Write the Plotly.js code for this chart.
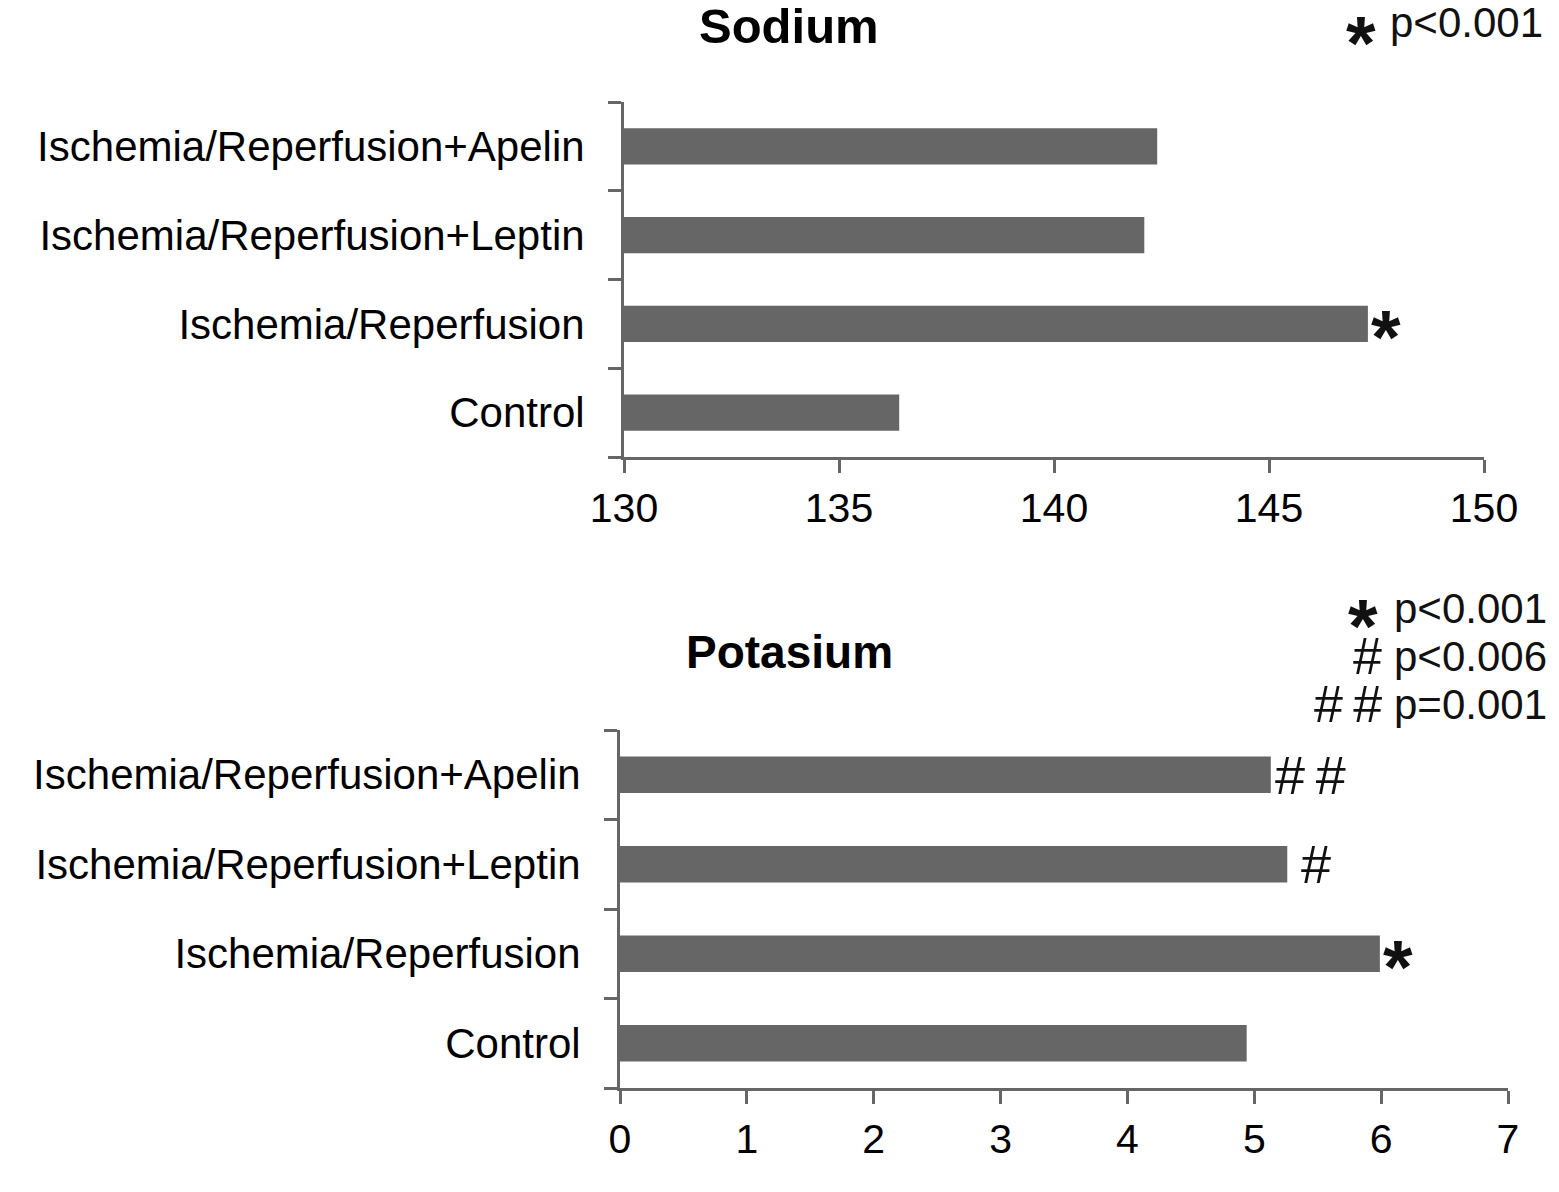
<!DOCTYPE html>
<html>
<head>
<meta charset="utf-8">
<script src="https://cdn.plot.ly/plotly-3.0.1.min.js"></script>
<style>html,body{margin:0;padding:0;background:#fff;}#chart{width:1559px;height:1192px;}</style>
</head>
<body>
<div id="chart"></div>
<script>
const categories = ['Control', 'Ischemia/Reperfusion', 'Ischemia/Reperfusion+Leptin', 'Ischemia/Reperfusion+Apelin'];
const sodium = [136.4, 147.3, 142.1, 142.4];
const potassium = [4.94, 5.99, 5.26, 5.13];
const sodiumMarks = ['', '*', '', ''];
const potassiumMarks = ['', '*', '#', '##'];
const sodiumTicks = [130, 135, 140, 145, 150];
const potassiumTicks = [0, 1, 2, 3, 4, 5, 6, 7];
const sodiumLegend = [['*', 'p<0.001']];
const potassiumLegend = [['*', 'p<0.001'], ['#', 'p<0.006'], ['##', 'p=0.001']];

const FONT = 'Liberation Sans, Arial, sans-serif';
const GREY = '#666666';

const traces = [
  {type: 'bar', orientation: 'h', y: categories, x: sodium, xaxis: 'x', yaxis: 'y',
   marker: {color: GREY}, hoverinfo: 'x+y'},
  {type: 'bar', orientation: 'h', y: categories, x: potassium, xaxis: 'x2', yaxis: 'y2',
   marker: {color: GREY}, hoverinfo: 'x+y'}
];

function xAxis(domain, range, ticks, anchor) {
  return {domain: domain, range: range, tickvals: ticks, ticktext: ticks.map(String),
    anchor: anchor, showgrid: false, zeroline: false, showline: true, linecolor: GREY, linewidth: 3,
    ticks: 'outside', ticklen: 13, tickwidth: 3, tickcolor: GREY,
    ticklabelstandoff: 0,
    tickfont: {family: FONT, size: 41, color: '#000'}, fixedrange: true};
}
function yAxis(domain, anchor) {
  return {domain: domain, type: 'category', anchor: anchor, categoryorder: 'array', categoryarray: categories,
    showgrid: false, zeroline: false, showline: true, linecolor: GREY, linewidth: 3,
    ticks: 'outside', ticklen: 13, tickwidth: 3, tickcolor: GREY, tickson: 'boundaries',
    ticklabelstandoff: 28,
    tickfont: {family: FONT, size: 42, color: '#000'}, fixedrange: true};
}

// display form of a marker symbol: stars bold, double hashes slightly spaced
function symText(m) {
  if (m === '*') return '<b>*</b>';
  return m.split('').join('\u2009');
}

const annotations = [];
// titles
annotations.push({text: '<b>Sodium</b>', xref: 'paper', yref: 'paper', x: 789/1559, y: 1 - 26/1192,
  xanchor: 'center', yanchor: 'middle', showarrow: false, font: {family: FONT, size: 49, color: '#000'}});
annotations.push({text: '<b>Potasium</b>', xref: 'paper', yref: 'paper', x: 789/1559, y: 1 - 652/1192,
  xanchor: 'center', yanchor: 'middle', showarrow: false, font: {family: FONT, size: 46, color: '#000'}});

const STAR_SIZE = 76;
// tight box around the (raised) asterisk glyph
function starBox(extra) {
  return Object.assign({height: 46, valign: 'top', font: {family: FONT, size: STAR_SIZE, color: '#111'}}, extra);
}

// bar marks
function addMarks(vals, marks, xref, yref) {
  vals.forEach((v, i) => {
    const m = marks[i];
    if (!m) return;
    const base = {text: symText(m), xref: xref, yref: yref, x: v, y: categories[i],
      xanchor: 'left', yanchor: 'middle', showarrow: false};
    if (m === '*') {
      annotations.push(starBox(Object.assign(base, {xshift: 1, yshift: 7})));
    } else {
      annotations.push(Object.assign(base, {xshift: m === '#' ? 12 : 2,
        font: {family: FONT, size: 54, color: '#111'}}));
    }
  });
}
addMarks(sodium, sodiumMarks, 'x', 'y');
addMarks(potassium, potassiumMarks, 'x2', 'y2');

// legends
function addLegend(items, rightPx, topPx, stepPx, symRightPx, starShift) {
  items.forEach((it, i) => {
    const yc = 1 - (topPx + i * stepPx) / 1192;
    annotations.push({text: it[1], xref: 'paper', yref: 'paper', x: rightPx/1559, y: yc,
      xanchor: 'right', yanchor: 'middle', showarrow: false, font: {family: FONT, size: 42, color: '#111'}});
    const base = {text: symText(it[0]), xref: 'paper', yref: 'paper', y: yc,
      xanchor: 'right', yanchor: 'middle', showarrow: false};
    if (it[0] === '*') {
      annotations.push(starBox(Object.assign(base, {x: (symRightPx - 4)/1559, yshift: starShift})));
    } else {
      annotations.push(Object.assign(base, {x: symRightPx/1559, height: 44,
        font: {family: FONT, size: 52, color: '#111'}}));
    }
  });
}
addLegend(sodiumLegend, 1545, 23, 0, 1382, 0);
addLegend(potassiumLegend, 1549, 608, 48, 1384, 2);

const layout = {
  width: 1559, height: 1192,
  margin: {l: 0, r: 0, t: 0, b: 0},
  paper_bgcolor: '#fff', plot_bgcolor: '#fff',
  showlegend: false, bargap: 0.59,
  xaxis: xAxis([624/1559, 1484/1559], [130, 150], sodiumTicks, 'y'),
  yaxis: yAxis([1 - 457/1192, 1 - 102/1192], 'x'),
  xaxis2: xAxis([620/1559, 1508/1559], [0, 7], potassiumTicks, 'y2'),
  yaxis2: yAxis([1 - 1088/1192, 1 - 730/1192], 'x2'),
  annotations: annotations
};

Plotly.newPlot('chart', traces, layout, {displayModeBar: false, staticPlot: true});
</script>
</body>
</html>
